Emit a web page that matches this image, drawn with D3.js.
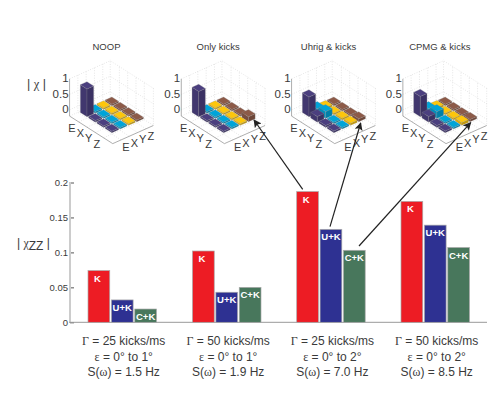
<!doctype html>
<html>
<head>
<meta charset="UTF-8">
<title>Process tomography and chi ZZ</title>
<script src="https://d3js.org/d3.v7.min.js"></script>
<style>
body { margin: 0; background: #fff; }
text { font-family: "Liberation Sans", sans-serif; fill: #3a3a3a; }
.serif { font-family: "Liberation Serif", serif; }
</style>
</head>
<body>
<script>
// bottom bar chart
var groups = ["g1", "g2", "g3", "g4"];
var series = ["K", "U+K", "C+K"];
var kVals = [0.074, 0.102, 0.187, 0.173];
var uVals = [0.032, 0.043, 0.133, 0.139];
var cVals = [0.019, 0.05, 0.103, 0.107];
var barColors = ["#ed1c24", "#2e3192", "#48775c"];
var yTicks = [0, 0.05, 0.1, 0.15, 0.2];
var caption1 = ["25", "50", "25", "50"];
var caption2 = ["1", "1", "2", "2"];
var caption3 = ["1.5", "1.9", "7.0", "8.5"];

// top 3d panels, rows are the colour rows, columns run along the left axis
var panelTitles = ["NOOP", "Only kicks", "Uhrig & kicks", "CPMG & kicks"];
var basis = ["E", "X", "Y", "Z"];
var rowColors = ["#4b3f7f", "#00a4d8", "#fdc60b", "#8c5a48"];
var noop = [[0.86, 0.01, 0.01, 0.01], [0.01, 0.01, 0.01, 0.01], [0.01, 0.01, 0.01, 0.01], [0.01, 0.01, 0.01, 0.01]];
var onlyKicks = [[0.78, 0.01, 0.01, 0.01], [0.01, 0.01, 0.01, 0.01], [0.01, 0.01, 0.01, 0.01], [0.01, 0.01, 0.01, 0.12]];
var uhrig = [[0.6, 0.14, 0.02, 0.02], [0.1, 0.18, 0.01, 0.01], [0.02, 0.01, 0.02, 0.03], [0.01, 0.01, 0.01, 0.05]];
var cpmg = [[0.62, 0.14, 0.02, 0.02], [0.1, 0.18, 0.01, 0.01], [0.02, 0.01, 0.02, 0.05], [0.01, 0.01, 0.01, 0.03]];
var panelData = [noop, onlyKicks, uhrig, cpmg];
var zTicks = [0, 0.5, 1];

var w = 491, h = 397;
var svg = d3.select("body").append("svg").attr("width", w).attr("height", h);

var yScale = d3.scaleLinear().domain([0, 0.2]).range([322.3, 182.5]);
var groupLeft = d3.scaleOrdinal().domain(groups).range([88, 192.5, 296.7, 401]);
var x1 = d3.scaleBand().domain(series).range([0, 68.5]).paddingInner(0.07);

// axis
var gy = svg.append("g").attr("transform", "translate(70,0)")
  .call(d3.axisLeft(yScale).tickValues(yTicks).tickFormat(d3.format("~g")).tickSize(-4).tickPadding(1));
gy.select(".domain").remove();
gy.selectAll("text").style("font-size", "9.5px").attr("x", -2);
gy.selectAll("line").attr("stroke", "#555");
svg.append("line").attr("x1", 70).attr("x2", 70).attr("y1", 182).attr("y2", 322).attr("stroke", "#ccc").attr("stroke-width", 2);
svg.append("line").attr("x1", 69).attr("x2", 487).attr("y1", yScale(0)).attr("y2", yScale(0)).attr("stroke", "#999").attr("stroke-width", 1);

var allVals = [kVals, uVals, cVals];
groups.forEach(function(g, i) {
  series.forEach(function(s, j) {
    var v = allVals[j][i];
    var bx = groupLeft(g) + x1(s);
    svg.append("rect").attr("x", bx).attr("y", yScale(v))
      .attr("width", x1.bandwidth()).attr("height", yScale(0) - yScale(v))
      .attr("fill", barColors[j]).attr("stroke", "#aaa").attr("stroke-width", 0.7);
    svg.append("text").attr("x", bx + (s == "K" ? 9.5 : x1.bandwidth() / 2)).attr("y", yScale(v) + 11)
      .attr("text-anchor", "middle").style("fill", "#fff").style("font-size", "9.5px").style("font-weight", "bold").text(s);
  });
  var cx = groupLeft(g) + 35.7;
  var t = svg.append("text").attr("x", cx).attr("y", 345).attr("text-anchor", "middle").style("font-size", "12px");
  t.append("tspan").attr("class", "serif").text("\u0393");
  t.append("tspan").text(" = " + caption1[i] + " kicks/ms");
  var t2 = svg.append("text").attr("x", cx).attr("y", 361).attr("text-anchor", "middle").style("font-size", "12px");
  t2.append("tspan").attr("class", "serif").text("\u03b5");
  t2.append("tspan").text(" = 0\u00b0 to " + caption2[i] + "\u00b0");
  var t3 = svg.append("text").attr("x", cx).attr("y", 376).attr("text-anchor", "middle").style("font-size", "12px");
  t3.append("tspan").text("S(");
  t3.append("tspan").attr("class", "serif").text("\u03c9");
  t3.append("tspan").text(") = " + caption3[i] + " Hz");
});

// y label
var yl = svg.append("text").attr("x", 17).attr("y", 247).style("font-size", "12px");
yl.text("| ");
yl.append("tspan").attr("class", "serif").text("\u03c7");
yl.append("tspan").attr("dy", 3).text("ZZ");
yl.append("tspan").attr("dy", -3).text(" |");

// 3d projection, each axis gets its own pixel scale
var uX = d3.scaleLinear().domain([0, 1]).range([0, 8.3]);
var uY = d3.scaleLinear().domain([0, 1]).range([0, 5.3]);
var vX = d3.scaleLinear().domain([0, 1]).range([0, 8.3]);
var vY = d3.scaleLinear().domain([0, 1]).range([0, -3.7]);
var zY = d3.scaleLinear().domain([0, 1]).range([0, -31]);
var panelX = d3.scaleOrdinal().domain(panelTitles).range([0, 111.7, 222, 333.3]);
var ox = 87, oy = 112; // centre of E,E cell at z=0

function proj(u, v, z) {
  return [ox + uX(u) + vX(v), oy + uY(u) + vY(v) + zY(z)];
}
function poly(pts) {
  return pts.map(function(p) { return p.join(","); }).join(" ");
}

var uMin = -1.1, uMax = 4.1, vMin = -1, vMax = 3.9;
var flo = -0.2, roof = 1.03;

panelTitles.forEach(function(title, p) {
  var g = svg.append("g").attr("transform", "translate(" + panelX(title) + ",0)");
  var a = proj(uMin, vMin, flo), b = proj(uMax, vMin, flo), c = proj(uMax, vMax, flo), d = proj(uMin, vMax, flo);
  // gridlines on the floor and the back walls
  var grid = g.append("g").attr("stroke", "#ccc").attr("stroke-width", 0.5).attr("stroke-dasharray", "1,1.5").attr("fill", "none");
  [0, 1, 2, 3].forEach(function(k) {
    grid.append("polyline").attr("points", poly([proj(uMax, k, flo), proj(uMin, k, flo), proj(uMin, k, roof)]));
    grid.append("polyline").attr("points", poly([proj(k, vMin, flo), proj(k, vMax, flo), proj(k, vMax, roof)]));
  });
  zTicks.forEach(function(z) {
    grid.append("polyline").attr("points", poly([proj(uMin, vMin, z), proj(uMin, vMax, z), proj(uMax, vMax, z)]));
  });
  grid.append("polyline").attr("points", poly([a, d, proj(uMin, vMax, roof)]));
  grid.append("polyline").attr("points", poly([d, c, proj(uMax, vMax, roof)]));
  // front axes
  g.append("polyline").attr("points", poly([proj(uMin, vMin, 1), a, b, c])).attr("fill", "none").attr("stroke", "#999").attr("stroke-width", 0.8);

  zTicks.forEach(function(z) {
    var q = proj(uMin, vMin, z);
    g.append("text").attr("x", q[0] - 1).attr("y", q[1] + 3.5).attr("text-anchor", "end").style("font-size", "11.5px").text(z);
  });
  basis.forEach(function(lab, k) {
    var q = proj(k, vMin, flo);
    g.append("text").attr("x", q[0] - 6.7).attr("y", q[1] + 9.7).attr("text-anchor", "middle").style("font-size", "11px").text(lab);
    var q2 = proj(uMax, k, flo);
    g.append("text").attr("x", q2[0] + 5).attr("y", q2[1] + 10.7).attr("text-anchor", "middle").style("font-size", "11px").text(lab);
  });
  g.append("text").attr("x", 106.5).attr("y", 50).attr("text-anchor", "middle").style("font-size", "9.5px").text(title);

  // painter order, back cells first
  var m = panelData[p];
  var cells = [];
  m.forEach(function(row, v) { row.forEach(function(val, u) { cells.push({u: u, v: v, val: val}); }); });
  cells.sort(function(s, t) { return (s.u - s.v) - (t.u - t.v) || s.u - t.u; });
  var hw = 0.4, base = -0.04;
  cells.forEach(function(e) {
    var col = d3.color(rowColors[e.v]);
    var u0 = e.u - hw, u1 = e.u + hw, v0 = e.v - hw, v1 = e.v + hw;
    [[[u0, v0, base], [u1, v0, base], [u1, v0, e.val], [u0, v0, e.val], col.darker(0.4)],
     [[u1, v0, base], [u1, v1, base], [u1, v1, e.val], [u1, v0, e.val], col.darker(0.7)],
     [[u0, v0, e.val], [u1, v0, e.val], [u1, v1, e.val], [u0, v1, e.val], col]
    ].forEach(function(f) {
      g.append("polygon").attr("points", poly(f.slice(0, 4).map(function(q) { return proj(q[0], q[1], q[2]); })))
        .attr("fill", f[4]).attr("stroke", "#888").attr("stroke-width", 0.25);
    });
  });
});

var chi = svg.append("text").attr("x", 27).attr("y", 88).style("font-size", "12.5px").text("| ");
chi.append("tspan").attr("class", "serif").text("\u03c7");
chi.append("tspan").text(" |");

// arrows from bars up to the zz cell of each panel
var arrowFrom = [[302.7, 189.3], [330, 226.7], [359, 246]];
var arrowTo = [[254, 120], [360.7, 123], [470.7, 122.7]];
svg.append("defs").append("marker").attr("id", "head").attr("viewBox", "0 0 10 10")
  .attr("refX", 9).attr("refY", 5).attr("markerWidth", 9).attr("markerHeight", 8).attr("orient", "auto")
  .attr("markerUnits", "userSpaceOnUse")
  .append("path").attr("d", "M0,0L10,5L0,10L2,5Z").attr("fill", "#222");
arrowFrom.forEach(function(f, i) {
  svg.append("line").attr("x1", f[0]).attr("y1", f[1]).attr("x2", arrowTo[i][0]).attr("y2", arrowTo[i][1])
    .attr("stroke", "#222").attr("stroke-width", 1.2).attr("marker-end", "url(#head)");
});
</script>
</body>
</html>
